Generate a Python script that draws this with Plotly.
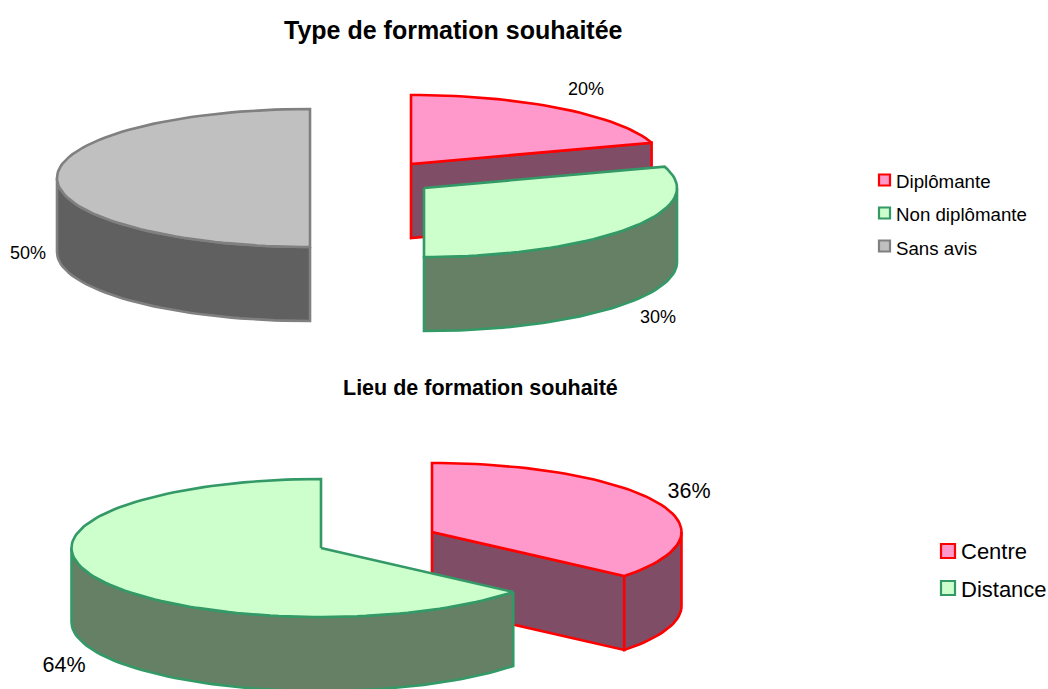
import math
import plotly.graph_objects as go

# ---- data ----
type_title = "Type de formation souhaitée"
type_names = ["Diplômante", "Non diplômante", "Sans avis"]
type_shares = [20, 30, 50]
lieu_title = "Lieu de formation souhaité"
lieu_names = ["Centre", "Distance"]
lieu_shares = [36, 64]

# ---- styles ----
FONT = "Liberation Sans"
TOP = {"pink": "#FF99CC", "green": "#CCFFCC", "grey": "#C0C0C0"}
SIDE = {"pink": "#804D66", "green": "#668066", "grey": "#606060"}
EDGE = {"pink": "#FF0000", "green": "#339966", "grey": "#808080"}
type_colors = ["pink", "green", "grey"]
lieu_colors = ["pink", "green"]

# ---- pie geometry (pixel space of the page) ----
RY, DEPTH = 69, 74
type_rx, lieu_rx = 253, 249.5
type_centres = [(411, 164), (424, 188), (310, 178)]
lieu_centres = [(432, 532), (321, 548)]
type_draw_order = [2, 0, 1]
lieu_draw_order = [0, 1]
type_label_pos = [(586, 90), (658, 318), (28, 254)]
lieu_label_pos = [(689, 493), (64, 667)]
type_legend_marks = [(884.5, 180), (884.5, 213), (884.5, 246)]
type_legend_text = [(895, 181), (895, 214.5), (895, 248)]
lieu_legend_marks = [(948, 551), (948, 588)]
lieu_legend_text = [(960, 551), (960, 589)]

fig = go.Figure()


def point(c, a, rx):
    return c[0] + rx * math.sin(a), c[1] - RY * math.cos(a)


def arc(c, a0, a1, rx):
    n = max(2, int(abs(a1 - a0) / math.radians(2)))
    return [point(c, a0 + (a1 - a0) * i / n, rx) for i in range(n + 1)]


def poly(pts, color, key, name):
    xs = [p[0] for p in pts] + [pts[0][0]]
    ys = [p[1] for p in pts] + [pts[0][1]]
    fig.add_trace(go.Scatter(
        x=xs, y=ys, mode="lines", fill="toself", fillcolor=color,
        line=dict(color=EDGE[key], width=2.6), name=name,
        hoverinfo="name", showlegend=False))


def extrude(pts):
    return pts + [(x, y + DEPTH) for x, y in reversed(pts)]


def draw_pie(shares, names, colors, centres, order, rx, label_pos, label_size,
             legend_marks, legend_text, legend_size, mark_size):
    total = sum(shares)
    bounds, acc = [], 0
    for v in shares:
        bounds.append((acc / total * 2 * math.pi, (acc + v) / total * 2 * math.pi))
        acc += v
    for i in order:
        a0, a1 = bounds[i]
        c, key, name = centres[i], colors[i], names[i]
        # cut faces turned towards the viewer
        if math.sin(a1) > 1e-6:
            poly(extrude([c, point(c, a1, rx)]), SIDE[key], key, name)
        if -math.sin(a0) > 1e-6:
            poly(extrude([c, point(c, a0, rx)]), SIDE[key], key, name)
        # visible outer wall: front half of the ellipse
        w0, w1 = max(a0, math.pi / 2), min(a1, 3 * math.pi / 2)
        if w1 > w0:
            poly(extrude(arc(c, w0, w1, rx)), SIDE[key], key, name)
        # top face
        poly([c] + arc(c, a0, a1, rx), TOP[key], key, name)
    # percentage labels
    fig.add_trace(go.Scatter(
        x=[p[0] for p in label_pos], y=[p[1] for p in label_pos],
        mode="text", text=[f"{v}%" for v in shares], textposition="middle center",
        textfont=dict(family=FONT, size=label_size, color="#000000"),
        hoverinfo="skip", showlegend=False))
    # legend
    for (mx, my), (tx, ty), name, key in zip(legend_marks, legend_text, names, colors):
        fig.add_trace(go.Scatter(
            x=[mx], y=[my], mode="markers",
            marker=dict(symbol="square", size=mark_size, color=TOP[key],
                        line=dict(color=EDGE[key], width=2.2)),
            hoverinfo="name", name=name, showlegend=False))
        fig.add_annotation(x=tx, y=ty, text=name, showarrow=False,
                           xanchor="left", yanchor="middle", xref="x", yref="y",
                           xshift=-1,
                           font=dict(family=FONT, size=legend_size, color="#000000"))


draw_pie(type_shares, type_names, type_colors, type_centres, type_draw_order, type_rx,
         type_label_pos, 18, type_legend_marks, type_legend_text, 18.7, 11)
draw_pie(lieu_shares, lieu_names, lieu_colors, lieu_centres, lieu_draw_order, lieu_rx,
         lieu_label_pos, 21.5, lieu_legend_marks, lieu_legend_text, 22, 14)

fig.add_annotation(x=453, y=30, text=f"<b>{type_title}</b>", showarrow=False,
                   xref="x", yref="y", font=dict(family=FONT, size=25, color="#000000"))
fig.add_annotation(x=480, y=388, text=f"<b>{lieu_title}</b>", showarrow=False,
                   xref="x", yref="y", font=dict(family=FONT, size=21.5, color="#000000"))

fig.update_layout(
    width=1048, height=689,
    margin=dict(l=0, r=0, t=0, b=0),
    paper_bgcolor="white", plot_bgcolor="white", showlegend=False,
    xaxis=dict(range=[0, 1048], visible=False, fixedrange=True),
    yaxis=dict(range=[689, 0], visible=False, fixedrange=True),
)
fig.write_html(
    "out.html",
    config={"displayModeBar": False},
    post_script="document.body.style.margin='0';document.documentElement.style.overflow='hidden';",
)
